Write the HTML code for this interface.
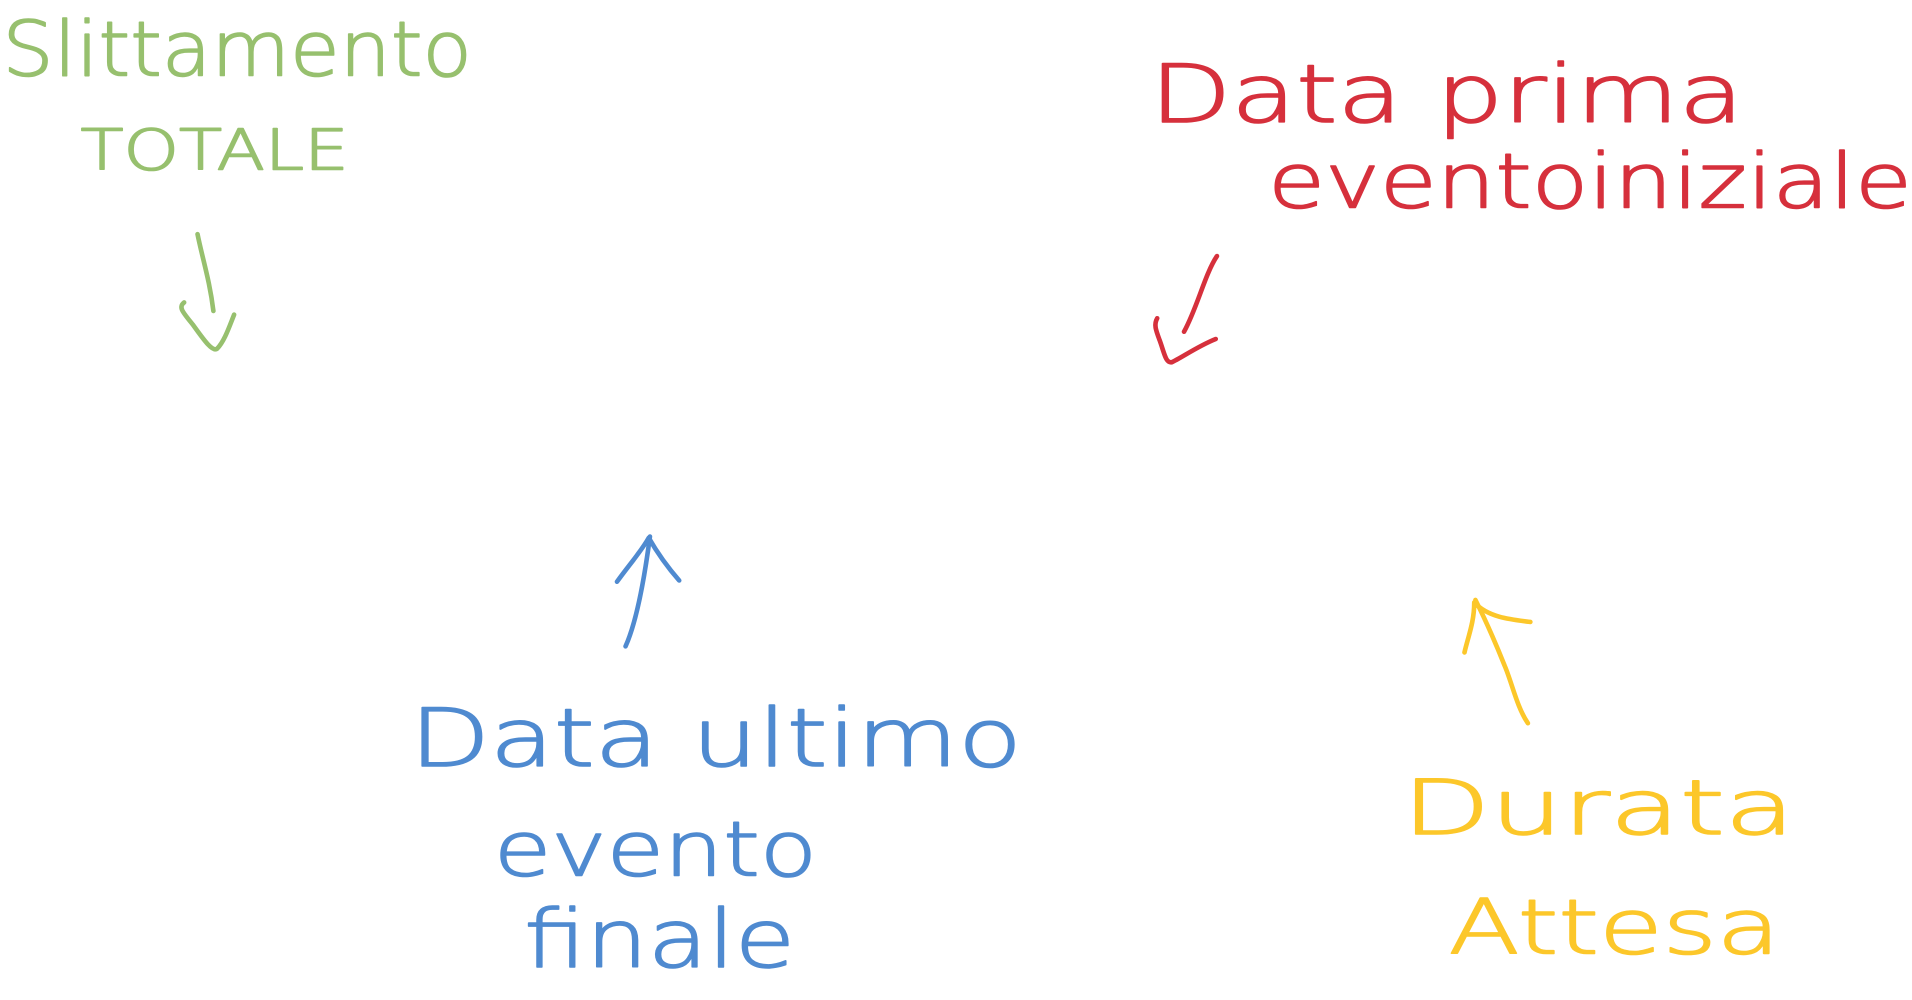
<!DOCTYPE html>
<html><head><meta charset="utf-8"><style>
html,body{margin:0;padding:0;background:#fff;width:1912px;height:1000px;overflow:hidden}
svg{display:block}
text{font-family:"DejaVu Sans ExtraLight","DejaVu Sans","Liberation Sans",sans-serif;font-weight:200;stroke-width:1.3;stroke-linejoin:round}
</style></head><body>
<svg width="1912" height="1000" viewBox="0 0 1568 820" preserveAspectRatio="none">
<g fill="none" stroke-linecap="round" stroke-linejoin="round" stroke-width="3.8">
 <path d="M162,192 C166,212 172,230 175,255" stroke="#97c06e"/>
 <path d="M151,248 C146,252 150,256 158,266 C166,277 174,289 178,286 C184,280 188,268 192,258" stroke="#97c06e"/>
 <path d="M998,210 C988,225 982,252 971,272" stroke="#d6303c"/>
 <path d="M949,261 C946,266 948,271 951,279 C955,290 956,298 961,297 C968,294 982,284 997,278" stroke="#d6303c"/>
 <path d="M513,530 C522,510 528,478 533,440" stroke="#4f8ad0"/>
 <path d="M506,477 C516,463 526,452 532,441 C540,455 550,468 557,476" stroke="#4f8ad0"/>
 <path d="M1253,593 C1244,580 1240,560 1234,546 C1226,526 1218,508 1210,492" stroke="#fcc72a"/>
 <path d="M1201,535 C1204,522 1209,510 1209,494 C1220,506 1238,508 1255,510" stroke="#fcc72a"/>
</g>
<g>
 <text x="2" y="62" font-size="62" textLength="385" lengthAdjust="spacingAndGlyphs" fill="#97c06e" stroke="#97c06e">Slittamento</text>
 <text x="66" y="139" font-size="46" textLength="220" lengthAdjust="spacingAndGlyphs" fill="#97c06e" stroke="#97c06e">TOTALE</text>
 <text x="943" y="100" font-size="66" textLength="487" lengthAdjust="spacingAndGlyphs" fill="#d6303c" stroke="#d6303c">Data prima</text>
 <text x="1040" y="170" font-size="62" textLength="528" lengthAdjust="spacingAndGlyphs" fill="#d6303c" stroke="#d6303c">eventoiniziale</text>
 <text x="336" y="628" font-size="66" textLength="502" lengthAdjust="spacingAndGlyphs" fill="#4f8ad0" stroke="#4f8ad0">Data ultimo</text>
 <text x="405" y="718" font-size="62" textLength="265" lengthAdjust="spacingAndGlyphs" fill="#4f8ad0" stroke="#4f8ad0">evento</text>
 <text x="430" y="793" font-size="66" textLength="222" lengthAdjust="spacingAndGlyphs" fill="#4f8ad0" stroke="#4f8ad0">finale</text>
 <text x="1150" y="684" font-size="62" textLength="322" lengthAdjust="spacingAndGlyphs" fill="#fcc72a" stroke="#fcc72a">Durata</text>
 <text x="1188" y="782" font-size="62" textLength="272" lengthAdjust="spacingAndGlyphs" fill="#fcc72a" stroke="#fcc72a">Attesa</text>
</g>
</svg>
</body></html>
